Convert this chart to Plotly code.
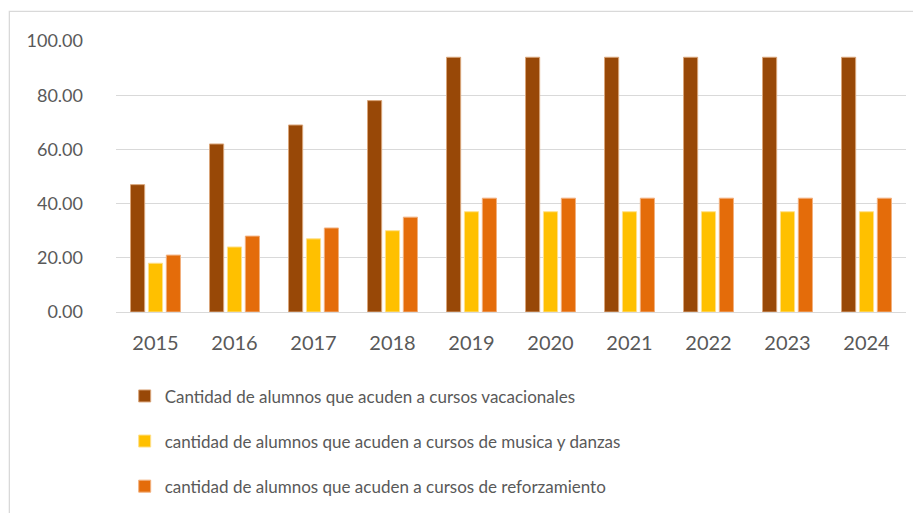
import plotly.graph_objects as go

years = ['2015', '2016', '2017', '2018', '2019', '2020', '2021', '2022', '2023', '2024']
vacacionales = [47, 62, 69, 78, 94, 94, 94, 94, 94, 94]
musica_danzas = [18, 24, 27, 30, 37, 37, 37, 37, 37, 37]
reforzamiento = [21, 28, 31, 35, 42, 42, 42, 42, 42, 42]

names = ['Cantidad de alumnos que acuden a cursos vacacionales',
         'cantidad de alumnos que acuden a cursos de musica y danzas',
         'cantidad de alumnos que acuden a cursos de reforzamiento']
colors = ['#984807', '#FFC000', '#E46C0A']
edges = ['#D9A57A', '#FFE08A', '#F2B07E']

fig = go.Figure()
for i, vals in enumerate([vacacionales, musica_danzas, reforzamiento]):
    fig.add_trace(go.Bar(x=years, y=vals, name=names[i], legendgroup=str(i),
                         marker=dict(color=colors[i], line=dict(color=edges[i], width=1))))

# la pagina tiene 8px de margen en el body
fig.update_layout(
    width=913, height=505,
    margin=dict(l=108, r=15, t=33, b=201, autoexpand=False),
    paper_bgcolor='white', plot_bgcolor='white',
    font=dict(family='Lato', size=18, color='#595959'),
    barmode='group', bargap=0.32, bargroupgap=0.21,
    showlegend=True,
    legend=dict(x=0.011, y=-0.245, xanchor='left', yanchor='top',
                orientation='v', tracegroupgap=20, font=dict(size=17, color='#595959'),
                itemwidth=30),
)
fig.update_yaxes(range=[0, 100], dtick=20, tickformat='.2f', gridcolor='#D9D9D9', gridwidth=1.3,
                 zeroline=False, showline=False, ticklabelstandoff=32, tickfont=dict(size=18))
fig.update_xaxes(showline=True, linecolor='#D9D9D9', linewidth=1.3, ticklabelstandoff=13,
                 tickfont=dict(size=20))

# marco del grafico
fig.add_shape(type='rect', xref='paper', yref='paper', x0=-0.135, x1=1.03, y0=-0.9, y1=1.109,
              line=dict(color='#D9D9D9', width=1.3), layer='below')

fig.write_html("out.html")
